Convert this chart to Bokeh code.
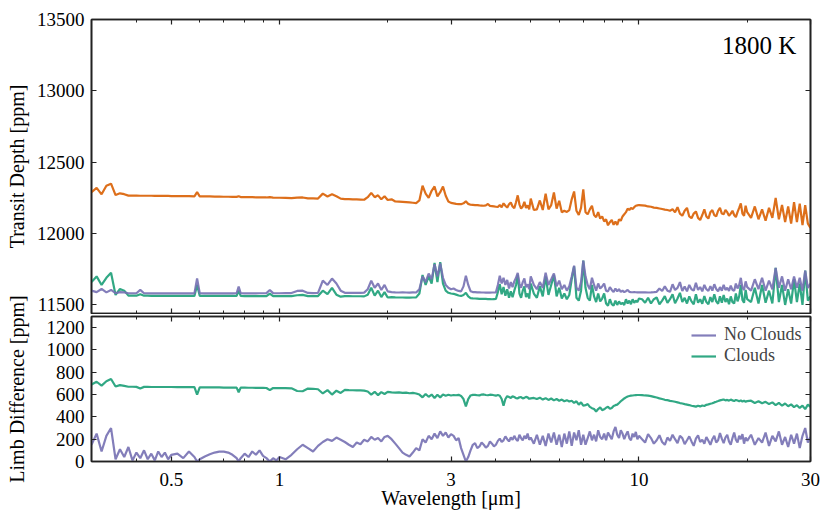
from bokeh.plotting import figure
from bokeh.models import Range1d, FixedTicker, LogAxis, LinearAxis, CustomJSTickFormatter, Label
from bokeh.layouts import column
from bokeh.embed import file_html
from bokeh.resources import INLINE

# ---------------- data ----------------
wavelength = [
    0.30, 0.31, 0.32, 0.33, 0.34, 0.35, 0.36, 0.37, 0.38, 0.39, 0.40, 0.41, 0.42, 0.43, 0.44, 0.45, 0.46, 0.47, 0.48, 0.49, 0.50,
    0.52, 0.54, 0.56, 0.58, 0.59, 0.60, 0.62, 0.64, 0.66, 0.68, 0.70, 0.72, 0.74, 0.76, 0.77, 0.78, 0.80, 0.82, 0.84, 0.86, 0.88, 0.90, 0.92, 0.94, 0.96, 0.98, 1.00,
    1.04, 1.08, 1.12, 1.16, 1.20, 1.24, 1.28, 1.32, 1.36, 1.40, 1.44, 1.48, 1.52, 1.56, 1.60, 1.64, 1.68, 1.72, 1.76, 1.80, 1.84, 1.88, 1.92, 1.96, 2.00,
    2.05, 2.10, 2.15, 2.20, 2.25, 2.30, 2.35, 2.40, 2.45, 2.50, 2.55, 2.60, 2.65, 2.70, 2.75, 2.80, 2.85, 2.90, 2.95, 3.00,
    3.05, 3.10, 3.15, 3.20, 3.25, 3.30, 3.35, 3.40, 3.45, 3.50, 3.55, 3.60, 3.65, 3.70, 3.75, 3.80, 3.85, 3.90, 3.95, 4.00,
    4.05, 4.10, 4.15, 4.20, 4.25, 4.30, 4.35, 4.40, 4.45, 4.50, 4.55, 4.60, 4.65, 4.70, 4.75, 4.80, 4.85, 4.90, 4.95, 5.00,
    5.1, 5.2, 5.3, 5.4, 5.5, 5.6, 5.7, 5.8, 5.9, 6.0, 6.1, 6.2, 6.3, 6.4, 6.5, 6.6, 6.7, 6.8, 6.9, 7.0,
    7.1, 7.2, 7.3, 7.4, 7.5, 7.6, 7.7, 7.8, 7.9, 8.0, 8.1, 8.2, 8.3, 8.4, 8.5, 8.6, 8.7, 8.8, 8.9, 9.0,
    9.1, 9.2, 9.3, 9.4, 9.5, 9.6, 9.7, 9.8, 9.9, 10.0,
    10.2, 10.4, 10.6, 10.8, 11.0, 11.2, 11.4, 11.6, 11.8, 12.0, 12.2, 12.4, 12.6, 12.8, 13.0, 13.2, 13.4, 13.6, 13.8, 14.0,
    14.2, 14.4, 14.6, 14.8, 15.0, 15.2, 15.4, 15.6, 15.8, 16.0, 16.2, 16.4, 16.6, 16.8, 17.0, 17.2, 17.4, 17.6, 17.8, 18.0,
    18.2, 18.4, 18.6, 18.8, 19.0, 19.2, 19.4, 19.6, 19.8, 20.0,
    20.5, 21.0, 21.5, 22.0, 22.5, 23.0, 23.5, 24.0, 24.5, 25.0, 25.5, 26.0, 26.5, 27.0, 27.5, 28.0, 28.5, 29.0, 29.5, 30.0,
]

# top panel: orange series [ppm]
depth_orange = [
    12290, 12320, 12275, 12335, 12350, 12270, 12282, 12276, 12266, 12266, 12266, 12265, 12265, 12265, 12265, 12264, 12264, 12264, 12264, 12264, 12263,
    12263, 12262, 12262, 12261, 12290, 12261, 12260, 12260, 12259, 12259, 12258, 12258, 12257, 12257, 12262, 12256, 12256, 12255, 12255, 12254, 12254, 12253, 12253, 12256, 12252, 12251, 12251,
    12250, 12249, 12252, 12253, 12247, 12246, 12245, 12280, 12260, 12276, 12262, 12245, 12242, 12241, 12240, 12239, 12238, 12237, 12255, 12285, 12255, 12268, 12240, 12262, 12235,
    12240, 12225, 12224, 12222, 12220, 12218, 12216, 12214, 12232, 12335, 12280, 12250, 12300, 12330, 12260, 12290, 12330, 12265, 12225, 12215,
    12212, 12208, 12207, 12206, 12212, 12226, 12208, 12202, 12201, 12200, 12199, 12197, 12196, 12195, 12198, 12207, 12194, 12192, 12190, 12188,
    12186, 12200, 12185, 12212, 12195, 12182, 12205, 12218, 12190, 12178, 12220, 12268, 12205, 12175, 12190, 12222, 12180, 12198, 12170, 12245,
    12165, 12170, 12232, 12165, 12280, 12170, 12200, 12288, 12175, 12230, 12150, 12160, 12152, 12165, 12240, 12295, 12160, 12130, 12180, 12310,
    12150, 12135, 12170, 12195, 12130, 12115, 12150, 12105, 12120, 12085, 12100, 12058, 12080, 12095, 12062, 12085, 12060, 12100, 12090, 12120,
    12135, 12150, 12175, 12165, 12180, 12172, 12185, 12195, 12198, 12200,
    12198, 12196, 12190, 12188, 12182, 12180, 12176, 12172, 12168, 12165, 12160, 12170, 12150, 12185, 12140, 12125, 12160, 12180, 12120, 12108,
    12140, 12155, 12110, 12095, 12130, 12170, 12120, 12105, 12150, 12165, 12130, 12120, 12160, 12180, 12140, 12135, 12165, 12150, 12125, 12140,
    12160, 12130, 12115, 12150, 12180, 12212, 12140, 12125, 12195, 12150,
    12110, 12190, 12100, 12170, 12090, 12180, 12110, 12250, 12100, 12200, 12080, 12190, 12070, 12220, 12080, 12210, 12060, 12200, 12070, 12040,
]

# top panel: No Clouds transit depth [ppm]
depth_noclouds = [
    11600, 11590, 11612, 11588, 11605, 11582, 11590, 11588, 11582, 11582, 11582, 11605, 11582, 11582, 11581, 11581, 11581, 11581, 11581, 11581, 11581,
    11581, 11581, 11581, 11581, 11685, 11582, 11581, 11581, 11581, 11581, 11581, 11581, 11581, 11582, 11628, 11582, 11581, 11581, 11581, 11581, 11582, 11582, 11583, 11605, 11583, 11582, 11582,
    11583, 11583, 11598, 11600, 11584, 11583, 11584, 11670, 11640, 11685, 11650, 11600, 11585, 11585, 11584, 11585, 11584, 11586, 11610, 11670, 11620, 11650, 11605, 11640, 11595,
    11590, 11588, 11587, 11588, 11587, 11586, 11588, 11587, 11610, 11700, 11660, 11720, 11680, 11785, 11700, 11790, 11690, 11640, 11620, 11610,
    11615, 11605, 11598, 11595, 11630, 11705, 11640, 11596, 11590, 11590, 11588, 11588, 11587, 11587, 11586, 11587, 11586, 11587, 11587, 11588,
    11640, 11705, 11650, 11690, 11640, 11675, 11615, 11660, 11625, 11665, 11690, 11725, 11650, 11620, 11660, 11685, 11625, 11645, 11610, 11700,
    11640, 11610, 11660, 11620, 11725, 11640, 11680, 11720, 11630, 11670, 11610, 11640, 11600, 11630, 11700, 11775, 11620, 11600, 11660, 11810,
    11700, 11640, 11610, 11690, 11640, 11600, 11650, 11615, 11630, 11650, 11600, 11595, 11625, 11605, 11590, 11615, 11595, 11610, 11592, 11600,
    11590, 11596, 11605, 11592, 11590, 11589, 11590, 11589, 11588, 11588,
    11588, 11588, 11587, 11588, 11590, 11592, 11615, 11598, 11630, 11600, 11592, 11645, 11605, 11620, 11660, 11598, 11630, 11595, 11640, 11610,
    11600, 11655, 11605, 11625, 11595, 11640, 11610, 11598, 11632, 11600, 11645, 11612, 11595, 11625, 11600, 11640, 11605, 11620, 11598, 11635,
    11605, 11600, 11650, 11615, 11640, 11690, 11620, 11605, 11665, 11625,
    11600, 11680, 11610, 11690, 11600, 11670, 11610, 11760, 11620, 11700, 11600, 11680, 11610, 11700, 11620, 11690, 11600, 11740, 11620, 11650,
]

# top panel: Clouds transit depth [ppm]
depth_clouds = [
    11660, 11700, 11640, 11690, 11725, 11570, 11612, 11600, 11565, 11565, 11565, 11575, 11565, 11565, 11564, 11564, 11564, 11564, 11564, 11564, 11564,
    11564, 11563, 11563, 11563, 11640, 11564, 11563, 11563, 11563, 11563, 11563, 11563, 11563, 11563, 11600, 11563, 11562, 11562, 11562, 11562, 11562, 11562, 11562, 11580, 11562, 11562, 11562,
    11562, 11562, 11568, 11570, 11562, 11562, 11562, 11600, 11575, 11620, 11572, 11558, 11562, 11562, 11561, 11561, 11561, 11560, 11572, 11620, 11565, 11600, 11555, 11590, 11552,
    11555, 11553, 11552, 11552, 11551, 11551, 11552, 11553, 11580, 11710, 11640, 11700, 11650, 11795, 11660, 11800, 11650, 11600, 11585, 11580,
    11578, 11572, 11566, 11563, 11570, 11585, 11560, 11548, 11546, 11545, 11544, 11543, 11543, 11542, 11542, 11541, 11541, 11540, 11541, 11542,
    11590, 11645, 11575, 11625, 11565, 11610, 11550, 11595, 11555, 11600, 11640, 11712, 11580, 11550, 11600, 11630, 11555, 11580, 11545, 11650,
    11580, 11550, 11630, 11560, 11700, 11570, 11640, 11710, 11560, 11620, 11545, 11580, 11540, 11570, 11680, 11770, 11550, 11530, 11600, 11810,
    11620, 11550, 11530, 11640, 11560, 11520, 11580, 11525, 11545, 11580, 11510, 11495, 11540, 11505, 11495, 11530, 11500, 11525, 11505, 11515,
    11500, 11540, 11510, 11530, 11505, 11540, 11515, 11530, 11520, 11545,
    11540, 11515, 11550, 11510, 11540, 11552, 11505, 11530, 11562, 11515, 11540, 11575, 11512, 11545, 11585, 11520, 11550, 11510, 11560, 11525,
    11505, 11575, 11515, 11540, 11508, 11562, 11520, 11505, 11555, 11520, 11575, 11525, 11508, 11560, 11515, 11570, 11520, 11545, 11505, 11560,
    11520, 11510, 11580, 11525, 11560, 11640, 11535, 11515, 11605, 11540,
    11520, 11620, 11510, 11640, 11515, 11600, 11510, 11760, 11520, 11640, 11500, 11610, 11510, 11680, 11520, 11650, 11500, 11740, 11530, 11560,
]

# bottom panel: limb difference, Clouds [ppm]
limb_clouds = [
    690, 715, 680, 720, 740, 672, 685, 678, 670, 670, 669, 655, 669, 669, 668, 668, 668, 668, 668, 668, 668,
    667, 667, 667, 666, 600, 665, 665, 664, 664, 664, 663, 663, 663, 662, 621, 662, 662, 661, 661, 660, 660, 660, 659, 640, 659, 658, 658,
    657, 656, 632, 630, 654, 652, 648, 610, 640, 600, 635, 615, 642, 640, 639, 638, 637, 636, 628, 600, 625, 595, 622, 605, 625,
    620, 618, 620, 615, 618, 612, 615, 610, 600, 575, 605, 580, 600, 570, 598, 575, 600, 590, 598, 592,
    596, 594, 598, 588, 560, 495, 560, 592, 597, 598, 594, 592, 600, 601, 596, 594, 599, 598, 594, 590,
    596, 590, 560, 500, 560, 586, 578, 570, 584, 578, 568, 565, 576, 578, 566, 570, 579, 575, 562, 566,
    570, 560, 572, 555, 568, 552, 565, 548, 560, 545, 555, 540, 550, 538, 545, 525, 540, 510, 530, 500,
    505, 515, 490, 478, 470, 448, 470, 485, 460, 468, 482, 490, 472, 480, 498, 505, 510, 525, 540, 553,
    565, 575, 583, 587, 590, 592, 594, 595, 596, 596,
    595, 592, 590, 586, 580, 574, 566, 560, 553, 550, 544, 540, 536, 530, 524, 520, 514, 510, 506, 500,
    496, 492, 500, 494, 502, 498, 508, 512, 518, 522, 530, 536, 542, 548, 552, 556, 548, 552, 546, 555,
    548, 542, 552, 546, 540, 548, 538, 545, 535, 542,
    545, 525, 540, 522, 535, 515, 530, 505, 525, 500, 520, 495, 512, 488, 505, 480, 500, 470, 510, 490,
]

# bottom panel: limb difference, No Clouds [ppm]
limb_noclouds = [
    150, 250, 90, 230, 300, 20, 110, 40, 130, 10, 80, 30, 100, 20, 70, 10, 90, 40, 80, 20, 60,
    70, 30, 90, 40, 0, 20, 45, 65, 80, 88, 88, 80, 60, 30, 0, 30, 70, 40, 90, 60, 100, 50, 30, 0, 30, 10, 40,
    20, 60, 110, 150, 120, 90, 140, 175, 200, 185, 215, 195, 175, 150, 130, 170, 155, 195, 180, 220, 195, 210, 180, 220, 230,
    200, 160, 120, 80, 60, 45, 80, 120, 100, 200, 170, 230, 200, 250, 210, 270, 230, 260, 215, 245,
    230, 190, 210, 120, 60, 0, 40, 100, 150, 165, 120, 135, 170, 150, 125, 140, 180, 160, 135, 150,
    185, 205, 175, 190, 225, 200, 180, 215, 195, 230, 200, 185, 240, 210, 190, 230, 205, 250, 195, 215,
    160, 240, 150, 230, 140, 250, 170, 260, 150, 240, 130, 250, 160, 270, 140, 260, 190, 280, 150, 240,
    150, 210, 270, 190, 240, 180, 280, 220, 200, 250, 190, 260, 230, 200, 270, 310, 240, 210, 280, 250,
    200, 240, 270, 210, 190, 250, 220, 265, 200, 230,
    200, 170, 245, 210, 160, 190, 235, 175, 150, 215, 185, 240, 200, 165, 230, 210, 155, 190, 225, 180,
    140, 205, 235, 175, 195, 160, 220, 185, 150, 200, 230, 170, 190, 255, 205, 165, 215, 240, 180, 150,
    210, 260, 195, 170, 230, 200, 245, 160, 215, 185,
    240, 150, 210, 170, 260, 140, 230, 180, 270, 150, 220, 130, 240, 160, 250, 120, 230, 300, 170, 220,
]

x_major_ticks = [0.5, 1, 3, 10, 30]
x_minor_ticks = [0.3, 0.4, 0.6, 0.7, 0.8, 0.9, 2, 4, 5, 6, 7, 8, 9, 20]
top_y_ticks = [11500, 12000, 12500, 13000, 13500]
bottom_y_ticks = [0, 200, 400, 600, 800, 1000, 1200]
series_labels = ["No Clouds", "Clouds"]
title_text = "1800 K"

n = len(wavelength)
for s in (depth_orange, depth_noclouds, depth_clouds, limb_clouds, limb_noclouds):
    assert len(s) == n, (len(s), n)

# ---------------- styling ----------------
FONT = "Liberation Serif"
AX = "#222222"
C_ORANGE = "#d95f02"
C_PURPLE = "#7570b3"
C_GREEN = "#1b9e77"
LW = 2.2
W = 822

def style_axis(ax, ticks, minor=(), labels=True, fmt=None):
    ax.ticker = FixedTicker(ticks=list(ticks), minor_ticks=list(minor))
    ax.axis_line_color = AX
    ax.axis_line_width = 1.6
    ax.major_tick_line_color = AX
    ax.major_tick_line_width = 1.2
    ax.minor_tick_line_color = AX
    ax.minor_tick_line_width = 1.0
    ax.major_tick_in = 5
    ax.major_tick_out = 0
    ax.minor_tick_in = 3
    ax.minor_tick_out = 0
    ax.major_label_text_font = FONT
    ax.major_label_text_font_size = "19px"
    ax.major_label_text_color = "black"
    ax.axis_label_text_font = FONT
    ax.axis_label_text_font_size = "20px"
    ax.axis_label_text_font_style = "normal"
    ax.axis_label_text_color = "black"
    if labels:
        if fmt is not None:
            ax.formatter = fmt
    else:
        ax.formatter = CustomJSTickFormatter(code="return ''")
        ax.major_label_standoff = 0
        ax.axis_label_standoff = 0

def xfmt():
    return CustomJSTickFormatter(code="return String(tick)")

# ---------------- top panel ----------------
p1 = figure(width=W, height=314, x_axis_type="log",
            x_range=Range1d(0.3, 30), y_range=Range1d(11440, 13500),
            output_backend="svg", toolbar_location=None,
            min_border_left=91, min_border_right=12, min_border_top=19, min_border_bottom=1)
p1.grid.visible = False
p1.outline_line_color = AX
p1.outline_line_width = 1.6

p1.line(wavelength, depth_orange, line_color=C_ORANGE, line_width=LW, line_alpha=0.9)
p1.line(wavelength, depth_clouds, line_color=C_GREEN, line_width=LW, line_alpha=0.9)
p1.line(wavelength, depth_noclouds, line_color=C_PURPLE, line_width=LW, line_alpha=0.9)

style_axis(p1.xaxis[0], x_major_ticks, x_minor_ticks, labels=False)
style_axis(p1.yaxis[0], top_y_ticks)
p1.yaxis[0].axis_label = "Transit Depth [ppm]"
p1.yaxis[0].major_label_standoff = 7
p1.yaxis[0].axis_label_standoff = 6

ax_top1 = LogAxis()
style_axis(ax_top1, x_major_ticks, x_minor_ticks, labels=False)
p1.add_layout(ax_top1, "above")
ax_right1 = LinearAxis()
style_axis(ax_right1, top_y_ticks, labels=False)
p1.add_layout(ax_right1, "right")

p1.add_layout(Label(x=27.4, y=13320, text=title_text, text_align="right", text_baseline="middle",
                    text_font=FONT, text_font_size="25px", text_color="black"))

# ---------------- bottom panel ----------------
p2 = figure(width=W, height=227, x_axis_type="log",
            x_range=Range1d(0.3, 30), y_range=Range1d(0, 1300),
            output_backend="svg", toolbar_location=None,
            min_border_left=91, min_border_right=12, min_border_top=32, min_border_bottom=48,
            margin=(-30, 0, 0, 0))
p2.border_fill_color = None
p2.grid.visible = False
p2.outline_line_color = AX
p2.outline_line_width = 1.6

p2.line(wavelength, limb_noclouds, line_color=C_PURPLE, line_width=LW, line_alpha=0.9,
        legend_label=series_labels[0])
p2.line(wavelength, limb_clouds, line_color=C_GREEN, line_width=LW, line_alpha=0.9,
        legend_label=series_labels[1])

style_axis(p2.xaxis[0], x_major_ticks, x_minor_ticks, fmt=xfmt())
p2.xaxis[0].axis_label = "Wavelength [μm]"
p2.xaxis[0].major_label_standoff = 11
p2.xaxis[0].axis_label_standoff = -2
style_axis(p2.yaxis[0], bottom_y_ticks)
p2.yaxis[0].axis_label = "Limb Difference [ppm]"
p2.yaxis[0].major_label_standoff = 7
p2.yaxis[0].axis_label_standoff = 16

ax_top2 = LogAxis()
style_axis(ax_top2, x_major_ticks, x_minor_ticks, labels=False)
p2.add_layout(ax_top2, "above")
ax_right2 = LinearAxis()
style_axis(ax_right2, bottom_y_ticks, labels=False)
p2.add_layout(ax_right2, "right")

lg = p2.legend[0]
lg.location = "top_right"
lg.border_line_color = None
lg.background_fill_alpha = 0
lg.label_text_font = FONT
lg.label_text_font_size = "18px"
lg.glyph_width = 25
lg.glyph_height = 18
lg.label_height = 18
lg.label_width = 78
lg.label_standoff = 8
lg.spacing = -5
lg.padding = 4
lg.margin = 8

layout = column(p1, p2, spacing=0)
open("out.html", "w").write(file_html(layout, INLINE))
